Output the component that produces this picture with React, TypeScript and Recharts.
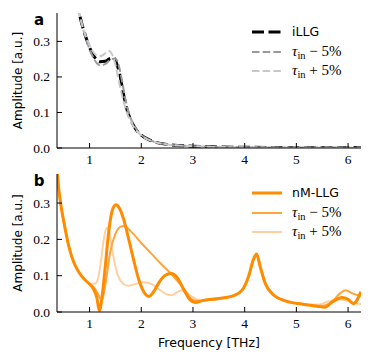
import React from "react";
import { LineChart, Line, XAxis, YAxis } from "recharts";

const freqTicks = [1, 2, 3, 4, 5, 6];
const ampTicks = [0, 0.1, 0.2, 0.3];
const freqDomain = [0.37, 6.25];
const ampDomain = [0, 0.38];

// panel a
const illgFreq = [0.6, 0.7, 0.8, 0.9, 1.0, 1.1, 1.2, 1.3, 1.4, 1.47, 1.53, 1.58, 1.63, 1.68, 1.73, 1.8, 1.9, 2.0, 2.2, 2.5, 3.0, 3.5, 4.0, 5.0, 6.3];
const illgAmp = [0.6, 0.47, 0.38, 0.325, 0.283, 0.255, 0.243, 0.244, 0.252, 0.254, 0.235, 0.21, 0.172, 0.135, 0.105, 0.078, 0.052, 0.036, 0.02, 0.01, 0.005, 0.003, 0.002, 0.0015, 0.001];

const tauMinusAFreq = [0.6, 0.7, 0.8, 0.9, 1.0, 1.1, 1.2, 1.3, 1.4, 1.5, 1.56, 1.62, 1.67, 1.72, 1.8, 1.9, 2.0, 2.2, 2.5, 3.0, 4.0, 6.3];
const tauMinusAAmp = [0.6, 0.47, 0.38, 0.322, 0.278, 0.247, 0.233, 0.236, 0.248, 0.252, 0.235, 0.195, 0.155, 0.12, 0.082, 0.054, 0.037, 0.02, 0.01, 0.005, 0.002, 0.001];

const tauPlusAFreq = [0.6, 0.7, 0.8, 0.9, 1.0, 1.1, 1.2, 1.3, 1.37, 1.44, 1.5, 1.55, 1.6, 1.66, 1.72, 1.8, 1.9, 2.0, 2.2, 2.5, 3.0, 4.0, 6.3];
const tauPlusAAmp = [0.6, 0.47, 0.38, 0.327, 0.29, 0.265, 0.258, 0.266, 0.274, 0.262, 0.235, 0.2, 0.165, 0.13, 0.1, 0.074, 0.05, 0.035, 0.02, 0.01, 0.005, 0.002, 0.001];

// panel b
const nmFreq = [0.37, 0.4, 0.45, 0.5, 0.6, 0.7, 0.8, 0.9, 1.0, 1.08, 1.14, 1.19, 1.24, 1.3, 1.37, 1.44, 1.51, 1.58, 1.66, 1.75, 1.85, 1.95, 2.05, 2.15, 2.25, 2.35, 2.45, 2.58, 2.7, 2.82, 2.94, 3.04, 3.2, 3.5, 3.8, 3.95, 4.08, 4.17, 4.23, 4.3, 4.4, 4.55, 4.8, 5.1, 5.4, 5.55, 5.7, 5.88, 6.0, 6.1, 6.25];
const nmAmp = [0.4, 0.345, 0.29, 0.25, 0.18, 0.135, 0.108, 0.09, 0.077, 0.062, 0.04, 0.003, 0.04, 0.12, 0.22, 0.28, 0.295, 0.285, 0.255, 0.205, 0.145, 0.09, 0.055, 0.043, 0.058, 0.083, 0.1, 0.106, 0.094, 0.062, 0.034, 0.026, 0.032, 0.037, 0.046, 0.06, 0.1, 0.145, 0.16, 0.125, 0.078, 0.048, 0.03, 0.022, 0.016, 0.013, 0.028, 0.04, 0.035, 0.023, 0.056];

const tauMinusBFreq = [0.37, 0.4, 0.45, 0.5, 0.6, 0.7, 0.8, 0.9, 1.0, 1.1, 1.18, 1.24, 1.3, 1.4, 1.5, 1.6, 1.67, 1.8, 2.0, 2.2, 2.4, 2.56, 2.7, 2.82, 2.98, 3.1, 3.3, 3.6, 3.8, 3.95, 4.08, 4.17, 4.23, 4.3, 4.4, 4.55, 4.8, 5.1, 5.4, 5.55, 5.7, 5.85, 5.95, 6.1, 6.25];
const tauMinusBAmp = [0.4, 0.345, 0.29, 0.25, 0.18, 0.135, 0.108, 0.09, 0.077, 0.065, 0.045, 0.032, 0.07, 0.165, 0.215, 0.235, 0.237, 0.222, 0.19, 0.16, 0.13, 0.108, 0.085, 0.065, 0.035, 0.03, 0.033, 0.039, 0.046, 0.06, 0.1, 0.145, 0.16, 0.125, 0.078, 0.048, 0.03, 0.022, 0.017, 0.018, 0.03, 0.052, 0.06, 0.05, 0.045];

const tauPlusBFreq = [0.37, 0.4, 0.45, 0.5, 0.6, 0.7, 0.8, 0.9, 1.0, 1.1, 1.16, 1.22, 1.28, 1.33, 1.38, 1.45, 1.55, 1.65, 1.75, 1.9, 2.05, 2.2, 2.35, 2.5, 2.58, 2.7, 2.8, 2.95, 3.1, 3.3, 3.6, 3.8, 3.95, 4.08, 4.17, 4.23, 4.3, 4.4, 4.55, 4.8, 5.1, 5.4, 5.6, 5.8, 5.95, 6.1, 6.25];
const tauPlusBAmp = [0.4, 0.345, 0.29, 0.25, 0.18, 0.135, 0.108, 0.09, 0.078, 0.078, 0.09, 0.14, 0.205, 0.232, 0.222, 0.16, 0.1, 0.078, 0.072, 0.078, 0.082, 0.077, 0.062, 0.048, 0.046, 0.055, 0.06, 0.045, 0.034, 0.033, 0.039, 0.046, 0.06, 0.1, 0.145, 0.16, 0.125, 0.078, 0.048, 0.03, 0.023, 0.02, 0.028, 0.035, 0.032, 0.025, 0.022];

const zip = (f: number[], a: number[]) => f.map((x, i) => ({ f: x, a: a[i] }));

const SANS = "'DejaVu Sans', sans-serif";
const SERIF = "'Liberation Serif', 'DejaVu Serif', serif";
const TICK_LEN = 5;

const BottomTick = (p: any) => (
  <g>
    <line x1={p.x} x2={p.x} y1={p.y} y2={p.y - TICK_LEN} stroke="#000" strokeWidth={1} />
    <text x={p.x} y={p.y + 16} textAnchor="middle" fontFamily={SERIF} fontSize={13.5} fill="#000">
      {p.payload.value}
    </text>
  </g>
);
const TopTick = (p: any) => (
  <line x1={p.x} x2={p.x} y1={p.y} y2={p.y + TICK_LEN} stroke="#000" strokeWidth={1} />
);
const LeftTick = (p: any) => (
  <g>
    <line x1={p.x} x2={p.x + TICK_LEN} y1={p.y} y2={p.y} stroke="#000" strokeWidth={1} />
    <text x={p.x - 7} y={p.y + 4.5} textAnchor="end" fontFamily={SERIF} fontSize={13.5} fill="#000">
      {p.payload.value.toFixed(1)}
    </text>
  </g>
);
const RightTick = (p: any) => (
  <line x1={p.x} x2={p.x - TICK_LEN} y1={p.y} y2={p.y} stroke="#000" strokeWidth={1} />
);

const Tau = ({ sign }: { sign: string }) => (
  <span style={{ fontFamily: SERIF, fontSize: 15, whiteSpace: "pre" }}>
    <i>τ</i>
    <span style={{ fontSize: 10.5, verticalAlign: -2.5 }}>in</span>
    {` ${sign} 5%`}
  </span>
);

type Row = { color: string; width: number; dash?: string; label: React.ReactNode };

const LegendBox = ({ rows, top }: { rows: Row[]; top: number }) => (
  <div style={{ position: "absolute", left: 251, top }}>
    {rows.map((r, i) => (
      <div key={i} style={{ display: "flex", alignItems: "center", height: 19.7 }}>
        <svg width={32} height={10} style={{ marginRight: 9 }}>
          <line x1={1} x2={31} y1={5} y2={5} stroke={r.color} strokeWidth={r.width} strokeDasharray={r.dash} />
        </svg>
        <span style={{ fontFamily: SANS, fontSize: 12.5, color: "#000" }}>{r.label}</span>
      </div>
    ))}
  </div>
);

const YLabel = (panel: string) => (props: any) => {
  const vb = props.viewBox;
  const cy = vb.y + vb.height / 2;
  return (
    <g>
      <text x={18} y={cy} transform={`rotate(-90 18 ${cy})`} textAnchor="middle" dominantBaseline="central" fontFamily={SANS} fontSize={12} fill="#000">
        Amplitude [a.u.]
      </text>
      <text x={39} y={vb.y + 12} textAnchor="middle" fontFamily={SANS} fontWeight="bold" fontSize={15} fill="#000">
        {panel}
      </text>
    </g>
  );
};

const Frame = (panel: string, xLabel: boolean) => [
  <XAxis key="xb" xAxisId={0} type="number" dataKey="f" domain={freqDomain} ticks={freqTicks} interval={0}
    allowDataOverflow tickSize={0} tickMargin={0} tickLine={false} height={xLabel ? 50 : 37}
    axisLine={{ stroke: "#000" }} tick={BottomTick}
    label={xLabel ? (props: any) => (
      <text x={props.viewBox.x + props.viewBox.width / 2} y={props.viewBox.y + 35} textAnchor="middle"
        fontFamily={SANS} fontSize={12.5} fill="#000">Frequency [THz]</text>
    ) : undefined} />,
  <XAxis key="xt" xAxisId="top" orientation="top" type="number" dataKey="f" domain={freqDomain} ticks={freqTicks}
    interval={0} allowDataOverflow tickSize={0} tickMargin={0} tickLine={false} height={0}
    axisLine={{ stroke: "#000" }} tick={TopTick} />,
  <YAxis key="yl" yAxisId={0} type="number" domain={ampDomain} ticks={ampTicks} interval={0} allowDataOverflow
    tickSize={0} tickMargin={0} tickLine={false} width={57} axisLine={{ stroke: "#000" }} tick={LeftTick}
    label={YLabel(panel)} />,
  <YAxis key="yr" yAxisId="right" orientation="right" type="number" domain={ampDomain} ticks={ampTicks}
    interval={0} allowDataOverflow tickSize={0} tickMargin={0} tickLine={false} width={0}
    axisLine={{ stroke: "#000" }} tick={RightTick} />,
];

const legendA: Row[] = [
  { color: "#000000", width: 3, dash: "12 4.5", label: "iLLG" },
  { color: "#999999", width: 2, dash: "7.5 3.2", label: <Tau sign="−" /> },
  { color: "#c6c9cc", width: 2, dash: "7.5 3.2", label: <Tau sign="+" /> },
];
const legendB: Row[] = [
  { color: "#ff8c00", width: 3, label: "nM-LLG" },
  { color: "#ffa43f", width: 2, label: <Tau sign="−" /> },
  { color: "#ffd1a0", width: 2, label: <Tau sign="+" /> },
];

export default function App() {
  return (
    <div style={{ position: "absolute", left: 0, top: 0, width: 373, height: 362, background: "#fff", overflow: "hidden" }}>
      <div style={{ position: "absolute", left: 0, top: 160 }}>
        <LineChart width={373} height={202} margin={{ top: 14, right: 12, left: 0, bottom: 0 }}>
          {Frame("b", true)}
          <Line data={zip(tauPlusBFreq, tauPlusBAmp)} dataKey="a" type="monotone" stroke="#ffd1a0" strokeWidth={2} dot={false} activeDot={false} isAnimationActive={false} />
          <Line data={zip(tauMinusBFreq, tauMinusBAmp)} dataKey="a" type="monotone" stroke="#ffa43f" strokeWidth={2} dot={false} activeDot={false} isAnimationActive={false} />
          <Line data={zip(nmFreq, nmAmp)} dataKey="a" type="monotone" stroke="#ff8c00" strokeWidth={3} dot={false} activeDot={false} isAnimationActive={false} />
        </LineChart>
      </div>
      <div style={{ position: "absolute", left: 0, top: 0 }}>
        <LineChart width={373} height={185} margin={{ top: 13, right: 12, left: 0, bottom: 0 }}>
          {Frame("a", false)}
          <Line data={zip(illgFreq, illgAmp)} dataKey="a" type="monotone" stroke="#000" strokeWidth={3} strokeDasharray="12 4.5" dot={false} activeDot={false} isAnimationActive={false} />
          <Line data={zip(tauMinusAFreq, tauMinusAAmp)} dataKey="a" type="monotone" stroke="#999999" strokeWidth={2} strokeDasharray="7.5 3.2" dot={false} activeDot={false} isAnimationActive={false} />
          <Line data={zip(tauPlusAFreq, tauPlusAAmp)} dataKey="a" type="monotone" stroke="#c6c9cc" strokeWidth={2} strokeDasharray="7.5 3.2" dot={false} activeDot={false} isAnimationActive={false} />
        </LineChart>
      </div>
      <LegendBox rows={legendA} top={22} />
      <LegendBox rows={legendB} top={183} />
    </div>
  );
}
